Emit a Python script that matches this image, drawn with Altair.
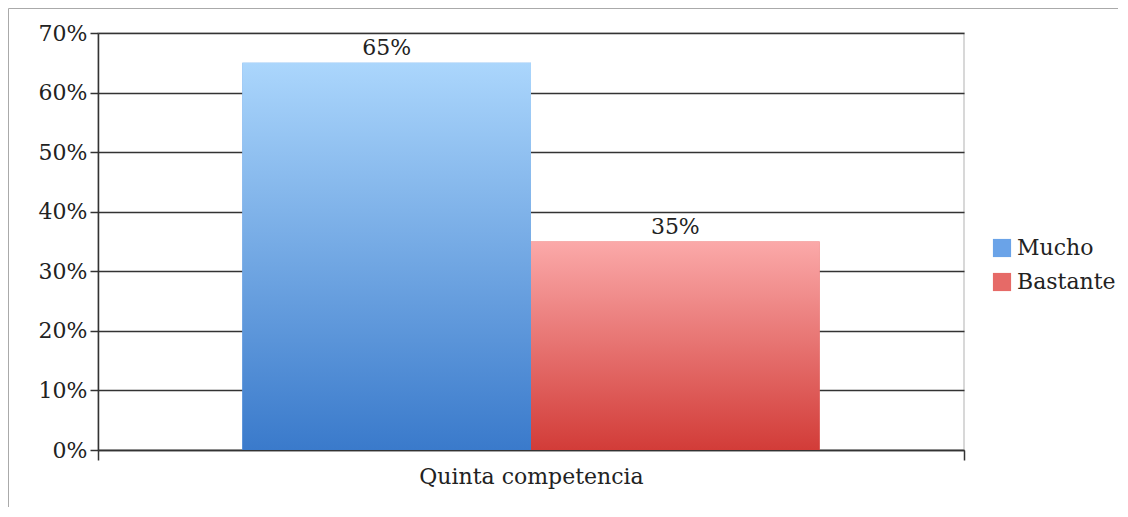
import altair as alt
import pandas as pd

categorias = ["Quinta competencia", "Quinta competencia"]
series = ["Mucho", "Bastante"]
valores = [0.65, 0.35]
etiquetas = ["65%", "35%"]
y_ticks = [0, 0.1, 0.2, 0.3, 0.4, 0.5, 0.6, 0.7]

df = pd.DataFrame({"cat": categorias, "serie": series, "valor": valores, "etiqueta": etiquetas})

FONT = "DejaVu Serif"
TXT = "#222222"

blue_grad = {"gradient": "linear", "x1": 0, "y1": 0, "x2": 0, "y2": 1,
             "stops": [{"offset": 0, "color": "#abd6fc"}, {"offset": 1, "color": "#3a7acb"}]}
red_grad = {"gradient": "linear", "x1": 0, "y1": 0, "x2": 0, "y2": 1,
            "stops": [{"offset": 0, "color": "#fba9a9"}, {"offset": 1, "color": "#d23c38"}]}

x_enc = alt.X("cat:N", title=None,
              scale=alt.Scale(paddingInner=0, paddingOuter=0),
              axis=alt.Axis(labelAngle=0, tickBand="extent", tickSize=10, tickColor="#333333",
                            domainColor="#333333", domainWidth=1.5, tickWidth=1.5,
                            labelFont=FONT, labelFontSize=22, labelColor=TXT, labelPadding=6,
                            labelLimit=0, grid=False))
xo_enc = alt.XOffset("serie:N", sort=series, scale=alt.Scale(paddingOuter=0.5, paddingInner=0))
y_enc = alt.Y("valor:Q", title=None,
              scale=alt.Scale(domain=[0, 0.7], nice=False),
              axis=alt.Axis(values=y_ticks, format=".0%", tickSize=8, tickColor="#333333",
                            tickWidth=1.5, domainColor="#333333", domainWidth=1.5,
                            gridColor="#333333", gridWidth=1.5,
                            labelFont=FONT, labelFontSize=22, labelColor=TXT, labelPadding=3))

base = alt.Chart(df)

legend_bars = base.mark_bar().encode(
    x=x_enc, xOffset=xo_enc, y=y_enc,
    color=alt.Color("serie:N", sort=series, title=None,
                    scale=alt.Scale(domain=series, range=["#6aa3e8", "#e66a67"]),
                    legend=alt.Legend(orient="none", legendX=893, legendY=204,
                                      symbolType="square", symbolSize=330,
                                      symbolStrokeWidth=0, rowPadding=12,
                                      labelFont=FONT, labelFontSize=22, labelColor=TXT,
                                      labelOffset=4, labelLimit=0))
)

grad_bars = base.mark_bar().encode(
    x=x_enc, xOffset=xo_enc, y=y_enc,
    fill=alt.condition(alt.datum.serie == "Mucho", alt.value(blue_grad), alt.value(red_grad))
)

labels = base.mark_text(baseline="bottom", dy=-3, font=FONT, fontSize=22, color=TXT).encode(
    x=x_enc, xOffset=xo_enc, y=y_enc, text="etiqueta:N"
)

frame = alt.Chart(alt.Data(values=[{"a": 1}])).mark_rect(filled=False, stroke="#aaaaaa", strokeWidth=1).encode(
    x=alt.value(-89.5), x2=alt.value(1100), y=alt.value(-24.5), y2=alt.value(600)
)

chart = alt.layer(legend_bars, grad_bars, labels, frame).properties(
    width=866, height=417,
    autosize=alt.AutoSizeParams(type="none"),
    padding={"left": 90, "top": 25, "right": 154, "bottom": 57},
    background="white",
).configure_view(stroke="#cccccc", strokeWidth=1.5)

chart.save("out.html", embed_options={"renderer": "svg", "actions": False})
